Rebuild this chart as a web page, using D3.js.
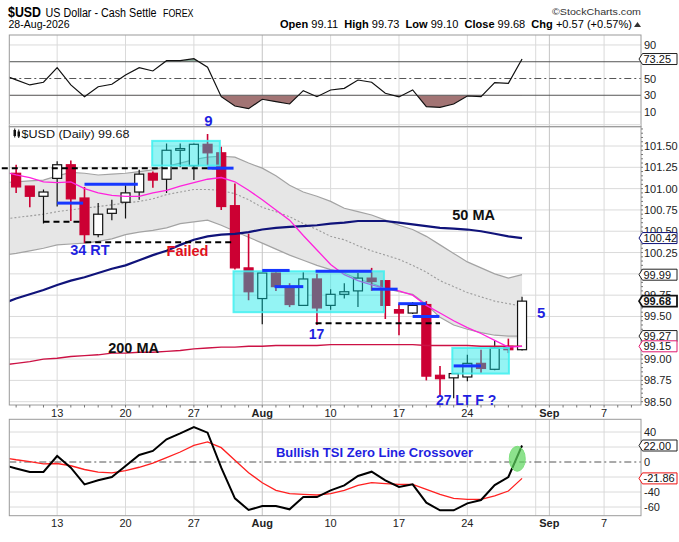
<!DOCTYPE html>
<html>
<head>
<meta charset="utf-8">
<script src="https://cdn.jsdelivr.net/npm/d3@7"></script>
<style>
  body { margin: 0; background: #fff; }
  svg { display: block; }
  text { font-family: "Liberation Sans", Arial, sans-serif; }
</style>
</head>
<body>
<div id="chart"></div>
<script>
"use strict";

// trading days shown, Jul 8 .. Aug 28
const days = ["Jul 8", "Jul 9", "Jul 10", "Jul 13", "Jul 14", "Jul 15", "Jul 16", "Jul 17",
    "Jul 20", "Jul 21", "Jul 22", "Jul 23", "Jul 24", "Jul 27", "Jul 28", "Jul 29", "Jul 30",
    "Jul 31", "Aug 3", "Aug 4", "Aug 5", "Aug 6", "Aug 7", "Aug 10", "Aug 11", "Aug 12",
    "Aug 13", "Aug 14", "Aug 17", "Aug 18", "Aug 19", "Aug 20", "Aug 21", "Aug 24", "Aug 25",
    "Aug 26", "Aug 27", "Aug 28"];

const open = [101.18, 101.03, 100.91, 101.12, 101.28, 100.89, 100.46, 100.71, 100.84, 100.96,
    101.18, 101.11, 101.45, 101.27, 101.52, 101.42, 100.80, 100.07, 99.71, 100.01,
    99.85, 99.63, 99.94, 99.63, 99.76, 99.80, 99.95, 99.92, 99.58, 99.54,
    99.64, 98.81, 98.78, 98.79, 98.95, 98.88, 99.15, 99.11];
const high = [101.28, 101.03, 100.99, 101.32, 101.33, 101.02, 100.83, 100.87, 101.04, 101.22,
    101.20, 101.53, 101.53, 101.53, 101.64, 101.49, 101.06, 100.47, 100.01, 100.03,
    99.89, 100.02, 100.00, 99.82, 99.89, 100.01, 100.07, 99.92, 99.65, 99.67,
    99.68, 98.92, 98.83, 99.05, 99.11, 99.22, 99.24, 99.73];
const low = [100.95, 100.78, 100.59, 100.79, 100.62, 100.36, 100.43, 100.63, 100.65, 100.87,
    101.01, 100.95, 101.25, 101.10, 101.27, 100.75, 100.05, 99.69, 99.41, 99.80,
    99.61, 99.63, 99.40, 99.58, 99.71, 99.61, 99.80, 99.47, 99.28, 99.53,
    98.75, 98.56, 98.54, 98.74, 98.84, 98.87, 99.07, 99.10];
const close = [101.02, 100.91, 100.96, 101.28, 100.88, 100.46, 100.70, 100.76, 100.95, 101.17,
    101.10, 101.45, 101.47, 101.52, 101.42, 100.79, 100.07, 99.79, 100.01, 99.85,
    99.64, 99.94, 99.60, 99.76, 99.79, 99.95, 99.91, 99.63, 99.54, 99.63,
    98.80, 98.77, 98.83, 98.95, 98.89, 99.13, 99.11, 99.68];

// overlays and indicators start one day earlier (Jul 7) so they run to the left edge
const bbUpper = [101.07, 101.08, 101.09, 101.10, 101.15, 101.19, 101.18, 101.16, 101.17, 101.18,
    101.20, 101.22, 101.26, 101.30, 101.34, 101.37, 101.38, 101.37, 101.30, 101.24,
    101.15, 101.04, 100.96, 100.91, 100.85, 100.77, 100.73, 100.69, 100.63, 100.57,
    100.52, 100.44, 100.34, 100.24, 100.14, 100.07, 100.00, 99.95, 99.99];
const bbMid = [100.64, 100.66, 100.68, 100.70, 100.73, 100.75, 100.77, 100.79, 100.81, 100.83,
    100.85, 100.88, 100.93, 100.96, 100.99, 100.99, 100.98, 100.94, 100.87, 100.78,
    100.73, 100.67, 100.59, 100.52, 100.44, 100.40, 100.33, 100.27, 100.22, 100.17,
    100.10, 100.02, 99.92, 99.85, 99.78, 99.73, 99.68, 99.65, 99.62];
const bbLower = [100.22, 100.24, 100.27, 100.30, 100.34, 100.35, 100.36, 100.38, 100.41, 100.46,
    100.49, 100.51, 100.54, 100.59, 100.61, 100.63, 100.57, 100.50, 100.43, 100.36,
    100.29, 100.22, 100.16, 100.10, 100.05, 100.01, 99.94, 99.89, 99.83, 99.79,
    99.76, 99.64, 99.49, 99.40, 99.35, 99.31, 99.28, 99.27, 99.27];
const ema10 = [101.20, 101.16, 101.13, 101.08, 101.07, 101.08, 101.00, 100.95, 100.92, 100.91,
    100.91, 100.95, 100.98, 101.03, 101.07, 101.11, 101.13, 101.08, 100.98, 100.87,
    100.75, 100.63, 100.45, 100.28, 100.11, 99.99, 99.92, 99.87, 99.83, 99.80,
    99.75, 99.63, 99.54, 99.45, 99.37, 99.30, 99.22, 99.14, 99.15];
const ma50 = [99.65, 99.71, 99.76, 99.81, 99.87, 99.92, 99.96, 100.01, 100.06, 100.10,
    100.16, 100.22, 100.27, 100.34, 100.40, 100.44, 100.46, 100.47, 100.49, 100.52,
    100.54, 100.55, 100.56, 100.57, 100.59, 100.60, 100.62, 100.62, 100.62, 100.60,
    100.58, 100.56, 100.54, 100.53, 100.52, 100.50, 100.47, 100.44, 100.42];
const ma200 = [98.93, 98.95, 98.97, 99.00, 99.01, 99.03, 99.04, 99.05, 99.07, 99.07,
    99.08, 99.08, 99.09, 99.10, 99.12, 99.13, 99.14, 99.14, 99.15, 99.15,
    99.16, 99.16, 99.16, 99.16, 99.17, 99.17, 99.17, 99.17, 99.17, 99.17,
    99.17, 99.16, 99.16, 99.16, 99.16, 99.15, 99.15, 99.15, 99.15];
const rsi = [54.4, 48.4, 42.3, 45.5, 63, 42.3, 28.3, 40.2, 43.1, 54.2,
    63, 59, 71.3, 71.3, 73.7, 63.4, 28.3, 17.2, 14, 25.2,
    22.3, 19.6, 35.5, 28.3, 36.3, 38.3, 48.2, 45.5, 32.4, 28,
    36.3, 16.4, 15.6, 19.6, 29.1, 28.3, 45, 44.3, 73.25];
const tsi = [-3.8, -8.6, -13.3, -13.3, 8, -7.6, -29.8, -24.4, -20, -5.3,
    9.3, 14.7, 30.2, 38.2, 46.7, 39.1, -7.6, -48.4, -64, -58.7,
    -58.7, -63.1, -46.7, -46.7, -37.8, -31.1, -18.7, -12.9, -24.4, -33.3,
    -29.8, -54.2, -64.4, -64.4, -55.1, -50.7, -30.7, -20, 22];
const tsiSignal = [6, 3, 0.5, -2.5, -2, -5, -10, -13.5, -14.5, -11.5,
    -7, -1.5, 5.8, 13.3, 22.2, 26.7, 19.1, 2.2, -14.2, -27.6,
    -37.8, -42.2, -43.1, -44, -42.2, -37.8, -31.1, -27.6, -28.9, -29.8,
    -29.8, -36.4, -43.1, -48.4, -49.8, -49.8, -45.3, -38.7, -21.86];

// date axis: day index of each label, and the weekly / month grid lines
const xTickIdx = [3, 8, 13, 18, 23, 28, 33, 39, 43];
const xTickLabels = ["13", "20", "27", "Aug", "10", "17", "24", "Sep", "7"];
const xGridIdx = [3, 8, 13, 18, 23, 28, 33, 38, 39, 43];
const priceTicks = [98.5, 98.75, 99, 99.25, 99.5, 99.75, 100, 100.25, 100.5, 100.75, 101, 101.25, 101.5];
const rsiTicks = [90, 50, 30, 10];
const tsiTicks = [40, 0, -40, -60];

// chart annotations (day index / price)
const boxFrom = [9.95, 15.9, 31.9], boxTo = [14.9, 26.9, 36.04];
const boxTop = [101.56, 100.03, 99.13], boxBottom = [101.27, 99.55, 98.83];
const dashLevel = [101.24, 100.61, 100.37, 99.42];
const dashFrom = [-1.05, 2, 5.05, 21.9], dashTo = [14.8, 4.9, 15.8, 31];
const blueLevel = [100.83, 101.05, 101.24, 100.04, 99.85, 100.03, 99.82, 99.65, 99.50, 98.92];
const blueFrom = [3, 5, 14, 18, 18.9, 21.9, 26, 27.95, 29, 32];
const blueTo = [4.9, 8.9, 15.9, 20, 21, 26, 27.9, 30, 30.95, 34];

const W = 679, H = 542;
const left = 9.3, right = 641;
const rsiP = { top: 35, bottom: 126.7 };
const mainP = { top: 126.7, bottom: 405 };
const tsiP = { top: 419.3, bottom: 515.7 };

const x = d3.scaleLinear().domain([-0.5, 45.7]).range([left, right]);
const yP = d3.scaleLinear().domain([98.5, 101.5]).range([401.7, 146]);
const yR = d3.scaleLinear().domain([0, 100]).range([120.4, 36.6]);
const yT = d3.scaleLinear().domain([-60, 40]).range([507, 432]);

const svg = d3.select("#chart").append("svg")
    .attr("width", W).attr("height", H);
const defs = svg.append("defs");

function clip(id, x0, y0, x1, y1) {
    defs.append("clipPath").attr("id", id).append("rect")
        .attr("x", x0).attr("y", y0).attr("width", x1 - x0).attr("height", y1 - y0);
    return "url(#" + id + ")";
}
const clipRsi = clip("c-rsi", left, rsiP.top, right, rsiP.bottom);
const clipMain = clip("c-main", left, mainP.top, right, mainP.bottom);
const clipTsi = clip("c-tsi", left, tsiP.top, right, tsiP.bottom);

// indicators start at day -1
const ind = arr => arr.map((v, i) => [i - 1, v]);

function panelGrid(p, yScale, levels) {
    const g = svg.append("g");
    g.selectAll(".h").data(levels).join("line")
        .attr("x1", left).attr("x2", right)
        .attr("y1", d => yScale(d)).attr("y2", d => yScale(d))
        .attr("stroke", "#dadada").attr("stroke-width", 1);
    g.selectAll(".v").data(xGridIdx).join("line")
        .attr("x1", d => x(d)).attr("x2", d => x(d))
        .attr("y1", p.top).attr("y2", p.bottom)
        .attr("stroke", d => d === 18 || d === 39 ? "#c4c4c4" : "#dadada").attr("stroke-width", 1);
    return g;
}

function panelFrame(p) {
    svg.append("rect").attr("x", left).attr("y", p.top)
        .attr("width", right - left).attr("height", p.bottom - p.top)
        .attr("fill", "none").attr("stroke", "#9a9a9a").attr("stroke-width", 1);
}

// axis labels; a label that a value tag would cover completely is left out
function axisLabels(yScale, ticks, fmt, tagValues) {
    const free = ticks.filter(t => !(tagValues || []).some(v => Math.abs(yScale(v) - yScale(t)) < 2.5));
    svg.append("g").selectAll("text").data(free).join("text")
        .attr("x", right + 3).attr("y", d => yScale(d) + 4)
        .attr("font-size", 11).attr("fill", "#222")
        .text(fmt);
}

function tag(yPos, label, color, bold) {
    const h = 11, tip = right - 2, xb = right + 1.5, xr = 677;
    const g = svg.append("g");
    g.append("path")
        .attr("d", `M${tip},${yPos} L${xb},${yPos - h / 2} L${xr},${yPos - h / 2} L${xr},${yPos + h / 2} L${xb},${yPos + h / 2} Z`)
        .attr("fill", "#fff").attr("stroke", color).attr("stroke-width", bold ? 1.8 : 1);
    g.append("text").attr("x", xb + 1).attr("y", yPos + 4)
        .attr("font-size", 11).attr("font-weight", bold ? "bold" : "normal")
        .attr("fill", "#111").text(label);
}

function dateLabels(yBase) {
    svg.append("g").selectAll("text").data(xTickIdx).join("text")
        .attr("x", d => x(d)).attr("y", yBase)
        .attr("text-anchor", "middle").attr("font-size", 11)
        .attr("font-weight", (d, i) => isNaN(+xTickLabels[i]) ? "bold" : "normal")
        .attr("fill", "#222")
        .text((d, i) => xTickLabels[i]);
}

// ---------- header ----------
svg.append("text").attr("x", 8).attr("y", 17).attr("font-size", 15).attr("font-weight", "bold")
    .attr("textLength", 33).attr("lengthAdjust", "spacingAndGlyphs").text("$USD");
svg.append("text").attr("x", 45.5).attr("y", 16.5).attr("font-size", 12)
    .attr("textLength", 111).attr("lengthAdjust", "spacingAndGlyphs").text("US Dollar - Cash Settle");
svg.append("text").attr("x", 163).attr("y", 16.5).attr("font-size", 10.5)
    .attr("textLength", 30.5).attr("lengthAdjust", "spacingAndGlyphs").text("FOREX");
svg.append("text").attr("x", 8.5).attr("y", 28).attr("font-size", 11)
    .attr("textLength", 61).attr("lengthAdjust", "spacingAndGlyphs").text("28-Aug-2026");
svg.append("text").attr("x", 641).attr("y", 15).attr("text-anchor", "end")
    .attr("font-family", "DejaVu Sans").attr("font-size", 9.5).attr("fill", "#333")
    .attr("textLength", 89).attr("lengthAdjust", "spacingAndGlyphs").text("\u00a9StockCharts.com");

const quote = svg.append("text").attr("x", 280).attr("y", 27.5).attr("font-size", 11)
    .attr("textLength", 352).attr("lengthAdjust", "spacingAndGlyphs");
[["Open", true], [" 99.11  ", false], ["High", true], [" 99.73  ", false], ["Low", true],
 [" 99.10  ", false], ["Close", true], [" 99.68  ", false], ["Chg", true], [" +0.57 (+0.57%)", false]]
    .forEach(([t, b]) => quote.append("tspan").attr("font-weight", b ? "bold" : "normal")
        .attr("xml:space", "preserve").text(t));
svg.append("path").attr("d", "M634,27 L641,27 L637.5,22 Z").attr("fill", "#333");

// ---------- RSI panel ----------
panelGrid(rsiP, yR, [10, 90]);
const rsiG = svg.append("g").attr("clip-path", clipRsi);
const rsiLine = d3.line().x(d => x(d[0])).y(d => yR(d[1]));
const rsiData = ind(rsi);
const aboveClip = clip("c-above", left, rsiP.top, right, yR(70));
const belowClip = clip("c-below", left, yR(30), right, rsiP.bottom);
rsiG.append("path").datum(rsiData)
    .attr("d", d3.area().x(d => x(d[0])).y0(yR(70)).y1(d => yR(d[1])))
    .attr("clip-path", aboveClip).attr("fill", "#8fae9c");
rsiG.append("path").datum(rsiData)
    .attr("d", d3.area().x(d => x(d[0])).y0(yR(30)).y1(d => yR(d[1])))
    .attr("clip-path", belowClip).attr("fill", "#a27474");
[70, 30].forEach(v => rsiG.append("line").attr("x1", left).attr("x2", right)
    .attr("y1", yR(v)).attr("y2", yR(v)).attr("stroke", "#555").attr("stroke-width", 1));
rsiG.append("line").attr("x1", left).attr("x2", right).attr("y1", yR(50)).attr("y2", yR(50))
    .attr("stroke", "#555").attr("stroke-dasharray", "7,3,2,3");
rsiG.append("path").datum(rsiData).attr("d", rsiLine)
    .attr("fill", "none").attr("stroke", "#111").attr("stroke-width", 1.2);
panelFrame(rsiP);
axisLabels(yR, rsiTicks, d => d);

// ---------- price panel ----------
panelGrid(mainP, yP, priceTicks.concat([101.75]));
const mainG = svg.append("g").attr("clip-path", clipMain);

mainG.append("path").datum(d3.range(bbUpper.length))
    .attr("d", d3.area().x(i => x(i - 1)).y0(i => yP(bbLower[i])).y1(i => yP(bbUpper[i])))
    .attr("fill", "#e6e6e6");
[bbUpper, bbLower].forEach(arr => mainG.append("path").datum(ind(arr))
    .attr("d", d3.line().x(d => x(d[0])).y(d => yP(d[1])))
    .attr("fill", "none").attr("stroke", "#a3a3a3").attr("stroke-width", 1.2));
mainG.append("path").datum(ind(bbMid))
    .attr("d", d3.line().x(d => x(d[0])).y(d => yP(d[1])))
    .attr("fill", "none").attr("stroke", "#9c9c9c").attr("stroke-width", 1.1)
    .attr("stroke-dasharray", "2,2");

// candles
const bw = 9;
const candles = mainG.append("g").selectAll("g").data(days).join("g");
candles.append("line")
    .attr("x1", (d, i) => x(i)).attr("x2", (d, i) => x(i))
    .attr("y1", (d, i) => yP(high[i])).attr("y2", (d, i) => yP(low[i]))
    .attr("stroke", (d, i) => close[i] < open[i] ? "#cc0033" : "#111")
    .attr("stroke-width", (d, i) => close[i] < open[i] ? 1.6 : 1.2);
candles.append("rect")
    .attr("x", (d, i) => x(i) - bw / 2)
    .attr("y", (d, i) => yP(Math.max(open[i], close[i])))
    .attr("width", bw)
    .attr("height", (d, i) => Math.max(1.5, Math.abs(yP(open[i]) - yP(close[i]))))
    .attr("fill", (d, i) => close[i] < open[i] ? "#cc0033" : "#fff")
    .attr("stroke", (d, i) => close[i] < open[i] ? "#cc0033" : "#111")
    .attr("stroke-width", 1.2);

// moving averages
const priceLine = d3.line().x(d => x(d[0])).y(d => yP(d[1]));
mainG.append("path").datum(ind(ma200)).attr("d", priceLine)
    .attr("fill", "none").attr("stroke", "#cc1144").attr("stroke-width", 1.4);
mainG.append("path").datum(ind(ma50)).attr("d", priceLine)
    .attr("fill", "none").attr("stroke", "#10137a").attr("stroke-width", 2.2);
mainG.append("path").datum(ind(ema10)).attr("d", priceLine)
    .attr("fill", "none").attr("stroke", "#ff22dd").attr("stroke-width", 1.3);

// cyan rectangles
svg.append("g").selectAll("rect").data(boxFrom).join("rect")
    .attr("x", (d, i) => x(d)).attr("y", (d, i) => yP(boxTop[i]))
    .attr("width", (d, i) => x(boxTo[i]) - x(d))
    .attr("height", (d, i) => yP(boxBottom[i]) - yP(boxTop[i]))
    .attr("fill", "#00e4e4").attr("fill-opacity", 0.42)
    .attr("stroke", "#3ff0f0").attr("stroke-opacity", 0.85).attr("stroke-width", 2);

// support / resistance marks
svg.append("g").selectAll("line").data(dashLevel).join("line")
    .attr("x1", (d, i) => x(dashFrom[i])).attr("x2", (d, i) => x(dashTo[i]))
    .attr("y1", d => yP(d)).attr("y2", d => yP(d))
    .attr("stroke", "#000").attr("stroke-width", 2).attr("stroke-dasharray", "6,4");
svg.append("g").selectAll("line").data(blueLevel).join("line")
    .attr("x1", (d, i) => x(blueFrom[i])).attr("x2", (d, i) => x(blueTo[i]))
    .attr("y1", d => yP(d)).attr("y2", d => yP(d))
    .attr("stroke", "#1638ff").attr("stroke-width", 3);

panelFrame(mainP);

// notes
const blue = "#1f1fe0";
function note(txt, xi, yv, color, size) {
    svg.append("text").attr("x", x(xi)).attr("y", yv).attr("fill", color)
        .attr("font-size", size).attr("font-weight", "bold").text(txt);
}
note("9", 13.75, yP(101.74), blue, 15);
note("34 RT", 3.95, yP(100.22), blue, 14.5);
note("Failed", 11.0, yP(100.21), "#e01020", 14.5);
note("50 MA", 31.9, yP(100.63), "#111", 14.5);
note("200 MA", 6.73, yP(99.07), "#111", 14.5);
note("17", 21.4, yP(99.24), blue, 14);
note("5", 38.1, yP(99.48), blue, 15);
note("27 LT F ?", 30.7, yP(98.465), blue, 14);

// panel title with candle icon
const icon = svg.append("g");
[[13.5, 130, 2.5, 6], [17.5, 131.5, 2.5, 5]].forEach(r => icon.append("rect")
    .attr("x", r[0]).attr("y", r[1]).attr("width", r[2]).attr("height", r[3]).attr("fill", "#111"));
icon.append("line").attr("x1", 14.75).attr("x2", 14.75).attr("y1", 128.5).attr("y2", 137.5).attr("stroke", "#111");
icon.append("line").attr("x1", 18.75).attr("x2", 18.75).attr("y1", 129.5).attr("y2", 138).attr("stroke", "#111");
svg.append("text").attr("x", 21.5).attr("y", 138).attr("font-family", "DejaVu Sans")
    .attr("font-size", 10).attr("fill", "#111")
    .attr("textLength", 108).attr("lengthAdjust", "spacingAndGlyphs").text("$USD (Daily) 99.68");

const priceTags = [ma50[ma50.length - 1], bbUpper[bbUpper.length - 1], bbLower[bbLower.length - 1],
    ema10[ema10.length - 1], close[close.length - 1]];
axisLabels(yP, priceTicks, d3.format(".2f"), priceTags);
// small ticks along the price axis
svg.append("g").selectAll("line").data(d3.range(98.5, 101.75, 0.05)).join("line")
    .attr("x1", right).attr("x2", right + 2).attr("y1", d => yP(d)).attr("y2", d => yP(d))
    .attr("stroke", "#777").attr("stroke-width", 1);
// day ticks under price panel
svg.append("g").selectAll("line").data(d3.range(0, 46)).join("line")
    .attr("x1", d => x(d)).attr("x2", d => x(d)).attr("y1", mainP.bottom).attr("y2", mainP.bottom + 2.5)
    .attr("stroke", "#777");
dateLabels(416.5);

tag(yP(ma50[ma50.length - 1]), "100.42", "#10137a", false);
tag(yP(bbUpper[bbUpper.length - 1]), "99.99", "#222", false);
tag(yP(bbLower[bbLower.length - 1]), "99.27", "#222", false);
tag(yP(ema10[ema10.length - 1]), "99.15", "#e0186e", false);
tag(yP(close[close.length - 1]), "99.68", "#111", true);
tag(yR(rsi[rsi.length - 1]), "73.25", "#222", false);

// ---------- TSI panel ----------
panelGrid(tsiP, yT, [40, 20, -20, -40, -60]);
const tsiG = svg.append("g").attr("clip-path", clipTsi);
tsiG.append("line").attr("x1", left).attr("x2", right).attr("y1", yT(0)).attr("y2", yT(0))
    .attr("stroke", "#555").attr("stroke-dasharray", "7,3,2,3");
const tsiLine = d3.line().x(d => x(d[0])).y(d => yT(d[1]));
tsiG.append("path").datum(ind(tsiSignal)).attr("d", tsiLine)
    .attr("fill", "none").attr("stroke", "#ff2020").attr("stroke-width", 1.3);
tsiG.append("path").datum(ind(tsi)).attr("d", tsiLine)
    .attr("fill", "none").attr("stroke", "#000").attr("stroke-width", 2);
svg.append("ellipse").attr("cx", x(36.65)).attr("cy", yT(4.3)).attr("rx", 8).attr("ry", 12.5)
    .attr("fill", "#5cd65c").attr("fill-opacity", 0.7).attr("stroke", "#7ee07e").attr("stroke-width", 1);
panelFrame(tsiP);
svg.append("text").attr("x", x(19.0)).attr("y", yT(7)).attr("fill", blue)
    .attr("font-size", 13).attr("font-weight", "bold").text("Bullish TSI Zero Line Crossover");
axisLabels(yT, tsiTicks, d => d);
tag(yT(tsi[tsi.length - 1]), "22.00", "#222", false);
tag(yT(tsiSignal[tsiSignal.length - 1]), "-21.86", "#ee1111", false);
dateLabels(527);
</script>
</body>
</html>
